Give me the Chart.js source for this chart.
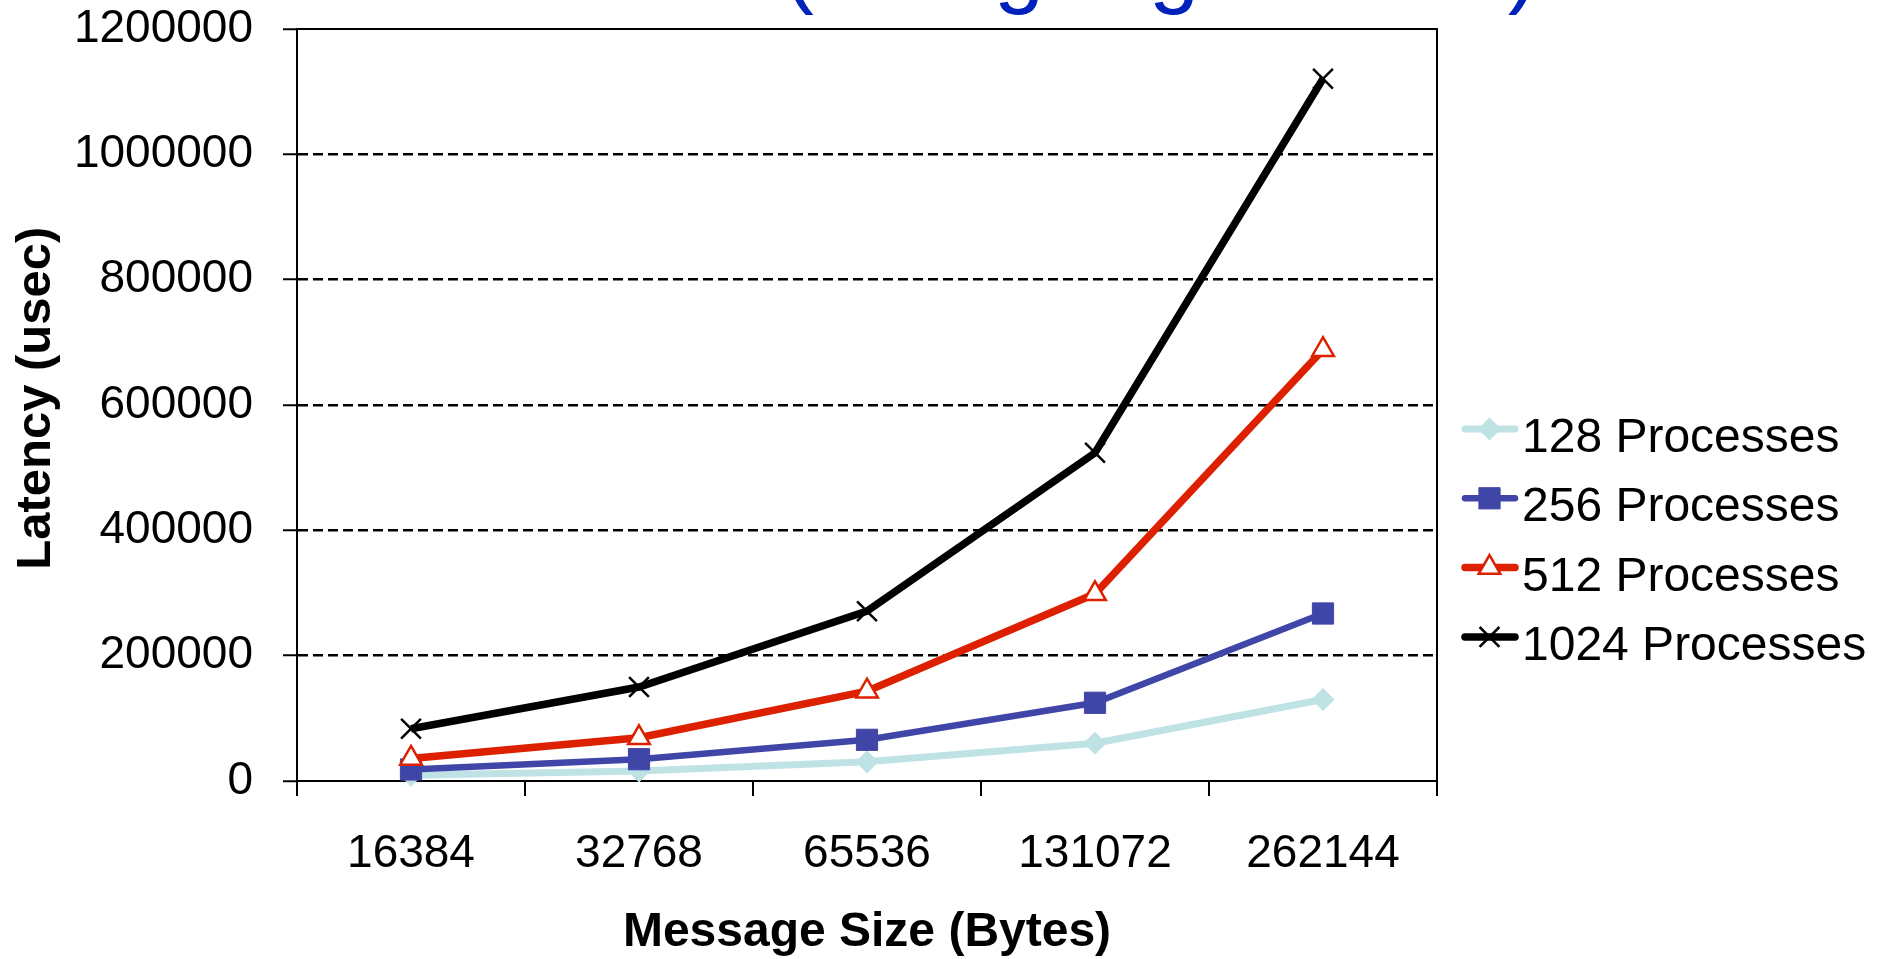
<!DOCTYPE html>
<html><head><meta charset="utf-8">
<script src="https://cdn.jsdelivr.net/npm/chart.js@4.4.0/dist/chart.umd.min.js"></script>
<style>html,body{margin:0;padding:0;background:#fff;overflow:hidden}#wrap{width:1881px;height:959px;position:relative}</style>
</head><body><div id="wrap"><canvas id="c" width="1881" height="959"></canvas></div>
<script>
const categories = ['16384', '32768', '65536', '131072', '262144'];
const seriesNames = ['128 Processes', '256 Processes', '512 Processes', '1024 Processes'];
const p128 = [9000, 16000, 30600, 60300, 130000];
const p256 = [18400, 34800, 65700, 124800, 267300];
const p512 = [36000, 69000, 143300, 298700, 688200];
const p1024 = [83300, 149900, 271000, 523800, 1120700];
const yTickValues = [0, 200000, 400000, 600000, 800000, 1000000, 1200000];
const titleText = '(Using Big Buffers)';
const xTitle = 'Message Size (Bytes)';
const yTitle = ' Latency (usec)';

const FONT = '"Liberation Sans", Arial, Helvetica, sans-serif';

function drawMarker(ctx, style, r, x, y) {
  ctx.beginPath();
  if (style === 'rectRot') {
    ctx.moveTo(x, y - r); ctx.lineTo(x + r, y); ctx.lineTo(x, y + r); ctx.lineTo(x - r, y); ctx.closePath();
    ctx.fill(); ctx.stroke();
  } else if (style === 'rect') {
    const s = r * Math.SQRT1_2;
    ctx.rect(x - s, y - s, 2 * s, 2 * s); ctx.fill(); ctx.stroke();
  } else if (style === 'triangle') {
    ctx.moveTo(x, y - r);
    ctx.lineTo(x + r * Math.sin(2 * Math.PI / 3), y - r * Math.cos(2 * Math.PI / 3));
    ctx.lineTo(x + r * Math.sin(4 * Math.PI / 3), y - r * Math.cos(4 * Math.PI / 3));
    ctx.closePath(); ctx.fill(); ctx.stroke();
  } else if (style === 'crossRot') {
    const o = r * Math.SQRT1_2;
    ctx.moveTo(x - o, y - o); ctx.lineTo(x + o, y + o);
    ctx.moveTo(x - o, y + o); ctx.lineTo(x + o, y - o);
    ctx.stroke();
  }
}

const legendPlugin = {
  id: 'customLegend',
  afterDraw(chart) {
    const ctx = chart.ctx;
    const rows = [429, 498.3, 567.6, 636.9];
    chart.data.datasets.forEach((ds, i) => {
      const y = rows[i];
      ctx.save();
      ctx.lineCap = 'round';
      ctx.strokeStyle = ds.borderColor;
      ctx.lineWidth = ds.borderWidth;
      ctx.beginPath(); ctx.moveTo(1465, y); ctx.lineTo(1515, y); ctx.stroke();
      ctx.lineCap = 'butt';
      ctx.fillStyle = ds.pointBackgroundColor;
      ctx.strokeStyle = ds.pointBorderColor;
      ctx.lineWidth = ds.pointBorderWidth;
      drawMarker(ctx, ds.pointStyle, ds.pointRadius, 1489.5, y);
      ctx.fillStyle = '#000';
      ctx.font = '48px ' + FONT;
      ctx.textBaseline = 'alphabetic';
      ctx.textAlign = 'left';
      ctx.fillText(ds.label, 1522, y + 23);
      ctx.restore();
    });
  }
};

const framePlugin = {
  id: 'frame',
  beforeDatasetsDraw(chart) {
    const {ctx, chartArea: a} = chart;
    ctx.save();
    ctx.strokeStyle = '#000';
    ctx.lineWidth = 2;
    ctx.beginPath();
    ctx.moveTo(a.left, a.top); ctx.lineTo(a.right, a.top); ctx.lineTo(a.right, a.bottom);
    ctx.stroke();
    ctx.restore();
  }
};

const titlePlugin = {
  id: 'topTitle',
  afterDraw(chart) {
    const ctx = chart.ctx;
    ctx.save();
    ctx.fillStyle = '#0022BB';
    ctx.font = '90px ' + FONT;
    ctx.textBaseline = 'alphabetic';
    ctx.textAlign = 'left';
    ctx.fillText(titleText, 784, -4);
    ctx.restore();
  }
};

const seriesStyles = [
  {color: '#BFE2E4', style: 'rectRot', r: 11, bw: 7, pbg: '#BFE2E4', pbc: '#BFE2E4', pbw: 1, order: 4},
  {color: '#4046A8', style: 'rect', r: 15, bw: 6.5, pbg: '#4046A8', pbc: '#4046A8', pbw: 1, order: 3},
  {color: '#DD2000', style: 'triangle', r: 12.5, bw: 7.5, pbg: '#FFFFFF', pbc: '#DD2000', pbw: 2.5, order: 2},
  {color: '#000000', style: 'crossRot', r: 14, bw: 7.5, pbg: '#000000', pbc: '#000000', pbw: 2.5, order: 1}
];
const seriesData = [p128, p256, p512, p1024];

const datasets = seriesData.map((d, i) => {
  const s = seriesStyles[i];
  return {
    label: seriesNames[i], data: d,
    borderColor: s.color, backgroundColor: s.pbg, borderWidth: s.bw,
    pointStyle: s.style, pointRadius: s.r, pointHoverRadius: s.r,
    pointBackgroundColor: s.pbg, pointBorderColor: s.pbc, pointBorderWidth: s.pbw,
    tension: 0, clip: false, order: s.order, fill: false
  };
});

new Chart(document.getElementById('c'), {
  type: 'line',
  data: {labels: categories, datasets},
  plugins: [framePlugin, legendPlugin, titlePlugin],
  options: {
    responsive: false, animation: false, devicePixelRatio: 1,
    layout: {padding: {top: 29, right: 444, bottom: 0, left: 0}},
    plugins: {legend: {display: false}, tooltip: {enabled: false}, title: {display: false}},
    scales: {
      x: {
        type: 'category', offset: true,
        grid: {offset: true, drawOnChartArea: false, drawTicks: true, tickLength: 15, tickWidth: 2, tickColor: '#000', lineWidth: 2, color: '#000'},
        border: {display: true, color: '#000', width: 2},
        ticks: {color: '#000', font: {family: FONT, size: 46, lineHeight: 1.2}, padding: 31, maxRotation: 0, autoSkip: false},
        title: {display: true, text: xTitle, color: '#000', font: {family: FONT, size: 48, weight: 'bold', lineHeight: 1.1}, padding: {top: 0, bottom: 0}},
        afterFit(scale) { scale.height = 178; scale.paddingLeft = 0; scale.paddingRight = 0; }
      },
      y: {
        min: 0, max: 1200000,
        afterBuildTicks(scale) { scale.ticks = yTickValues.map(v => ({value: v})); },
        grid: {
          drawTicks: true, tickLength: 14, tickWidth: 2, tickColor: '#000', lineWidth: 2.5,
          color: (c) => (c.tick && (c.tick.value === 0 || c.tick.value === 1200000)) ? 'rgba(0,0,0,0)' : '#000',
          tickBorderDash: []
        },
        border: {display: true, color: '#000', width: 2, dash: [10, 5]},
        ticks: {color: '#000', font: {family: FONT, size: 46}, padding: 30, callback: (v) => String(v)},
        title: {display: true, text: yTitle, color: '#000', font: {family: FONT, size: 49, weight: 'bold', lineHeight: 1.2}, padding: {top: 7, bottom: 0}},
        afterFit(scale) { scale.width = 297; scale.paddingTop = 0; scale.paddingBottom = 0; }
      }
    }
  }
});
</script>
</body></html>
